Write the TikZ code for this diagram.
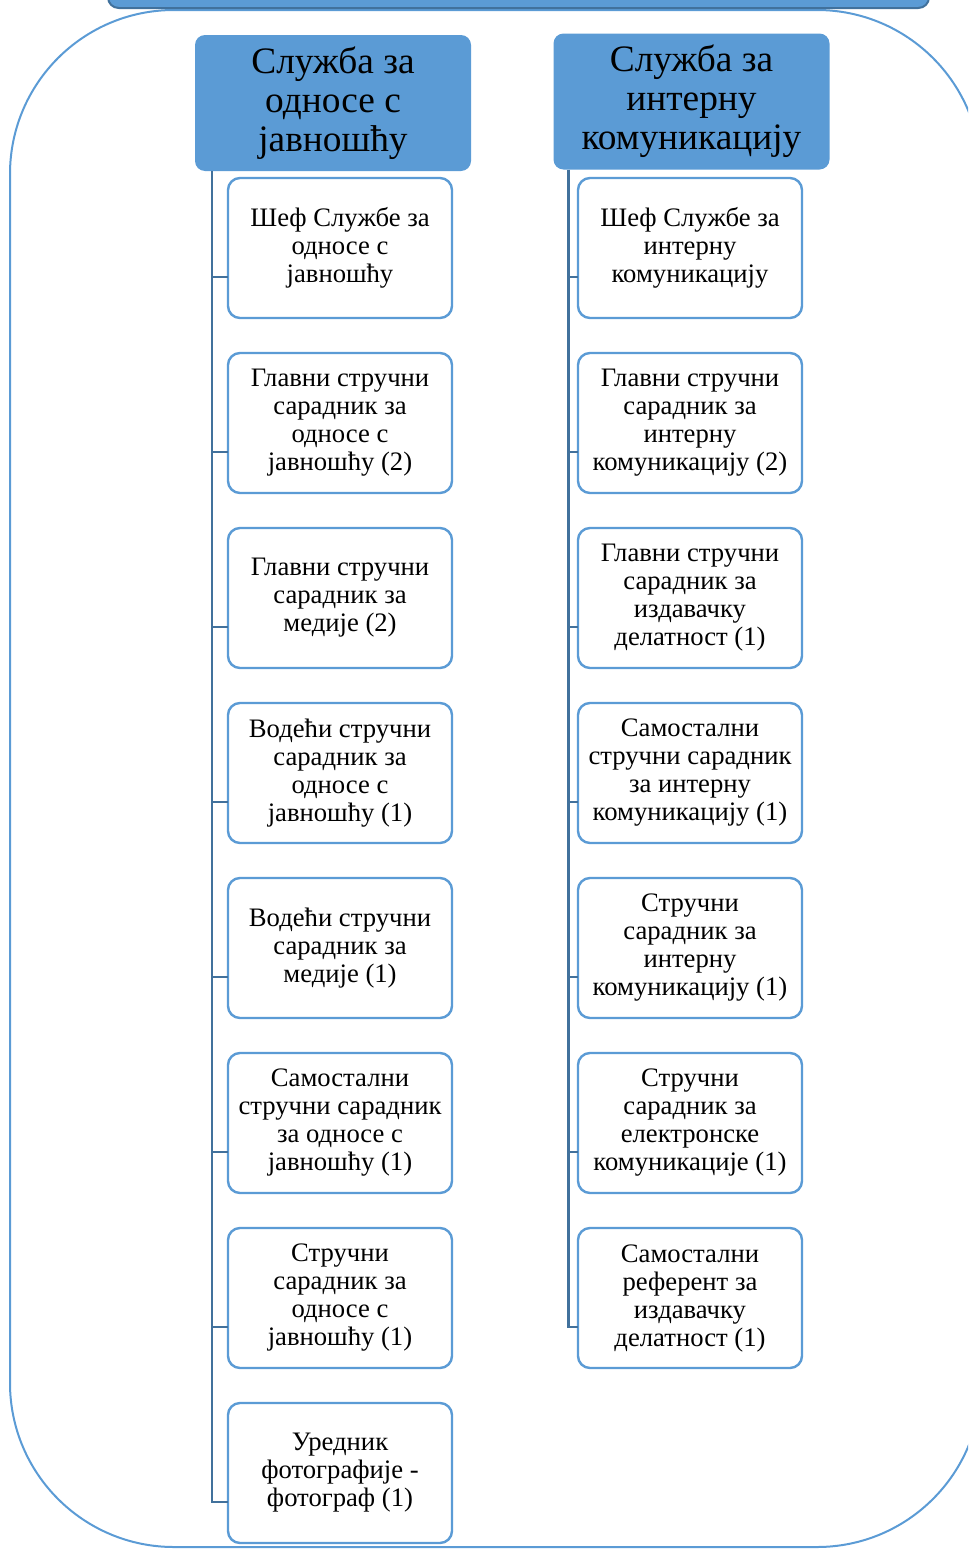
\documentclass[tikz,border=0pt]{standalone}
\usepackage{fontspec}
\setmainfont{Liberation Serif}
\usetikzlibrary{positioning}
\definecolor{accent}{HTML}{5B9BD5}
\definecolor{accentdark}{HTML}{41719C}
\tikzset{
  head/.style={fill=accent, rounded corners=7.5pt, align=center, inner sep=2pt, outer sep=0pt,
    minimum width=207pt, minimum height=102pt, font=\fontsize{28}{29.25}\selectfont},
  post/.style={draw=accent, line width=1.8pt, fill=white, rounded corners=9pt, align=center,
    inner sep=2pt, outer sep=0pt, minimum width=168pt, minimum height=105pt,
    font=\fontsize{20}{21}\selectfont},
  trunk/.style={draw=accentdark, line width=2.2pt},
  frame/.style={draw=accent, line width=1.5pt, rounded corners=123pt},
  bar/.style={draw=accentdark, fill=accent, line width=1.5pt, rounded corners=8pt}
}

\begin{document}
\begin{tikzpicture}[x=0.75pt, y=-0.75pt, node distance=26.25pt]
    \clip (0,0) rectangle (968,1549);
    \draw[frame] (10,10) rectangle (981,1547);
    \draw[bar] (108,-60) rectangle (929,8);

    % public relations service
    \node[head] (hl) at (333,103) {Служба за\\ односе с\\ јавношћу};
    \node[post] (l1) at (340,248) {Шеф Службе за\\ односе с\\ јавношћу};
    \node[post, below=of l1] (l2) {Главни стручни\\ сарадник за\\ односе с\\ јавношћу (2)};
    \node[post, below=of l2] (l3) {Главни стручни\\ сарадник за\\ медије (2)};
    \node[post, below=of l3] (l4) {Водећи стручни\\ сарадник за\\ односе с\\ јавношћу (1)};
    \node[post, below=of l4] (l5) {Водећи стручни\\ сарадник за\\ медије (1)};
    \node[post, below=of l5] (l6) {Самостални\\ стручни сарадник\\ за односе с\\ јавношћу (1)};
    \node[post, below=of l6] (l7) {Стручни\\ сарадник за\\ односе с\\ јавношћу (1)};
    \node[post, below=of l7] (l8) {Уредник\\ фотографије -\\ фотограф (1)};

    % internal communication service
    \node[head] (hr) at (691.5,101.5) {Служба за\\ интерну\\ комуникацију};
    \node[post] (r1) at (690,248) {Шеф Службе за\\ интерну\\ комуникацију};
    \node[post, below=of r1] (r2) {Главни стручни\\ сарадник за\\ интерну\\ комуникацију (2)};
    \node[post, below=of r2] (r3) {Главни стручни\\ сарадник за\\ издавачку\\ делатност (1)};
    \node[post, below=of r3] (r4) {Самостални\\ стручни сарадник\\ за интерну\\ комуникацију (1)};
    \node[post, below=of r4] (r5) {Стручни\\ сарадник за\\ интерну\\ комуникацију (1)};
    \node[post, below=of r5] (r6) {Стручни\\ сарадник за\\ електронске\\ комуникације (1)};
    \node[post, below=of r6] (r7) {Самостални\\ референт за\\ издавачку\\ делатност (1)};

    % trunks
    \coordinate (lt) at ([xshift=12.75pt]hl.south west);
    \coordinate (rt) at ([xshift=11.25pt]hr.south west);
    \foreach \n in {l1,l2,l3,l4,l5,l6,l7,l8}
      \path ([yshift=-21.75pt]\n.west) coordinate (t\n);
    \foreach \n in {r1,r2,r3,r4,r5,r6,r7}
      \path ([yshift=-21.75pt]\n.west) coordinate (t\n);
    \draw[trunk] (lt) |- (tl8);
    \draw[trunk] (rt) |- (tr7);
    \foreach \n in {l1,l2,l3,l4,l5,l6,l7}
      \draw[trunk] (lt |- t\n) -- (t\n);
    \foreach \n in {r1,r2,r3,r4,r5,r6}
      \draw[trunk] (rt |- t\n) -- (t\n);
\end{tikzpicture}
\end{document}
